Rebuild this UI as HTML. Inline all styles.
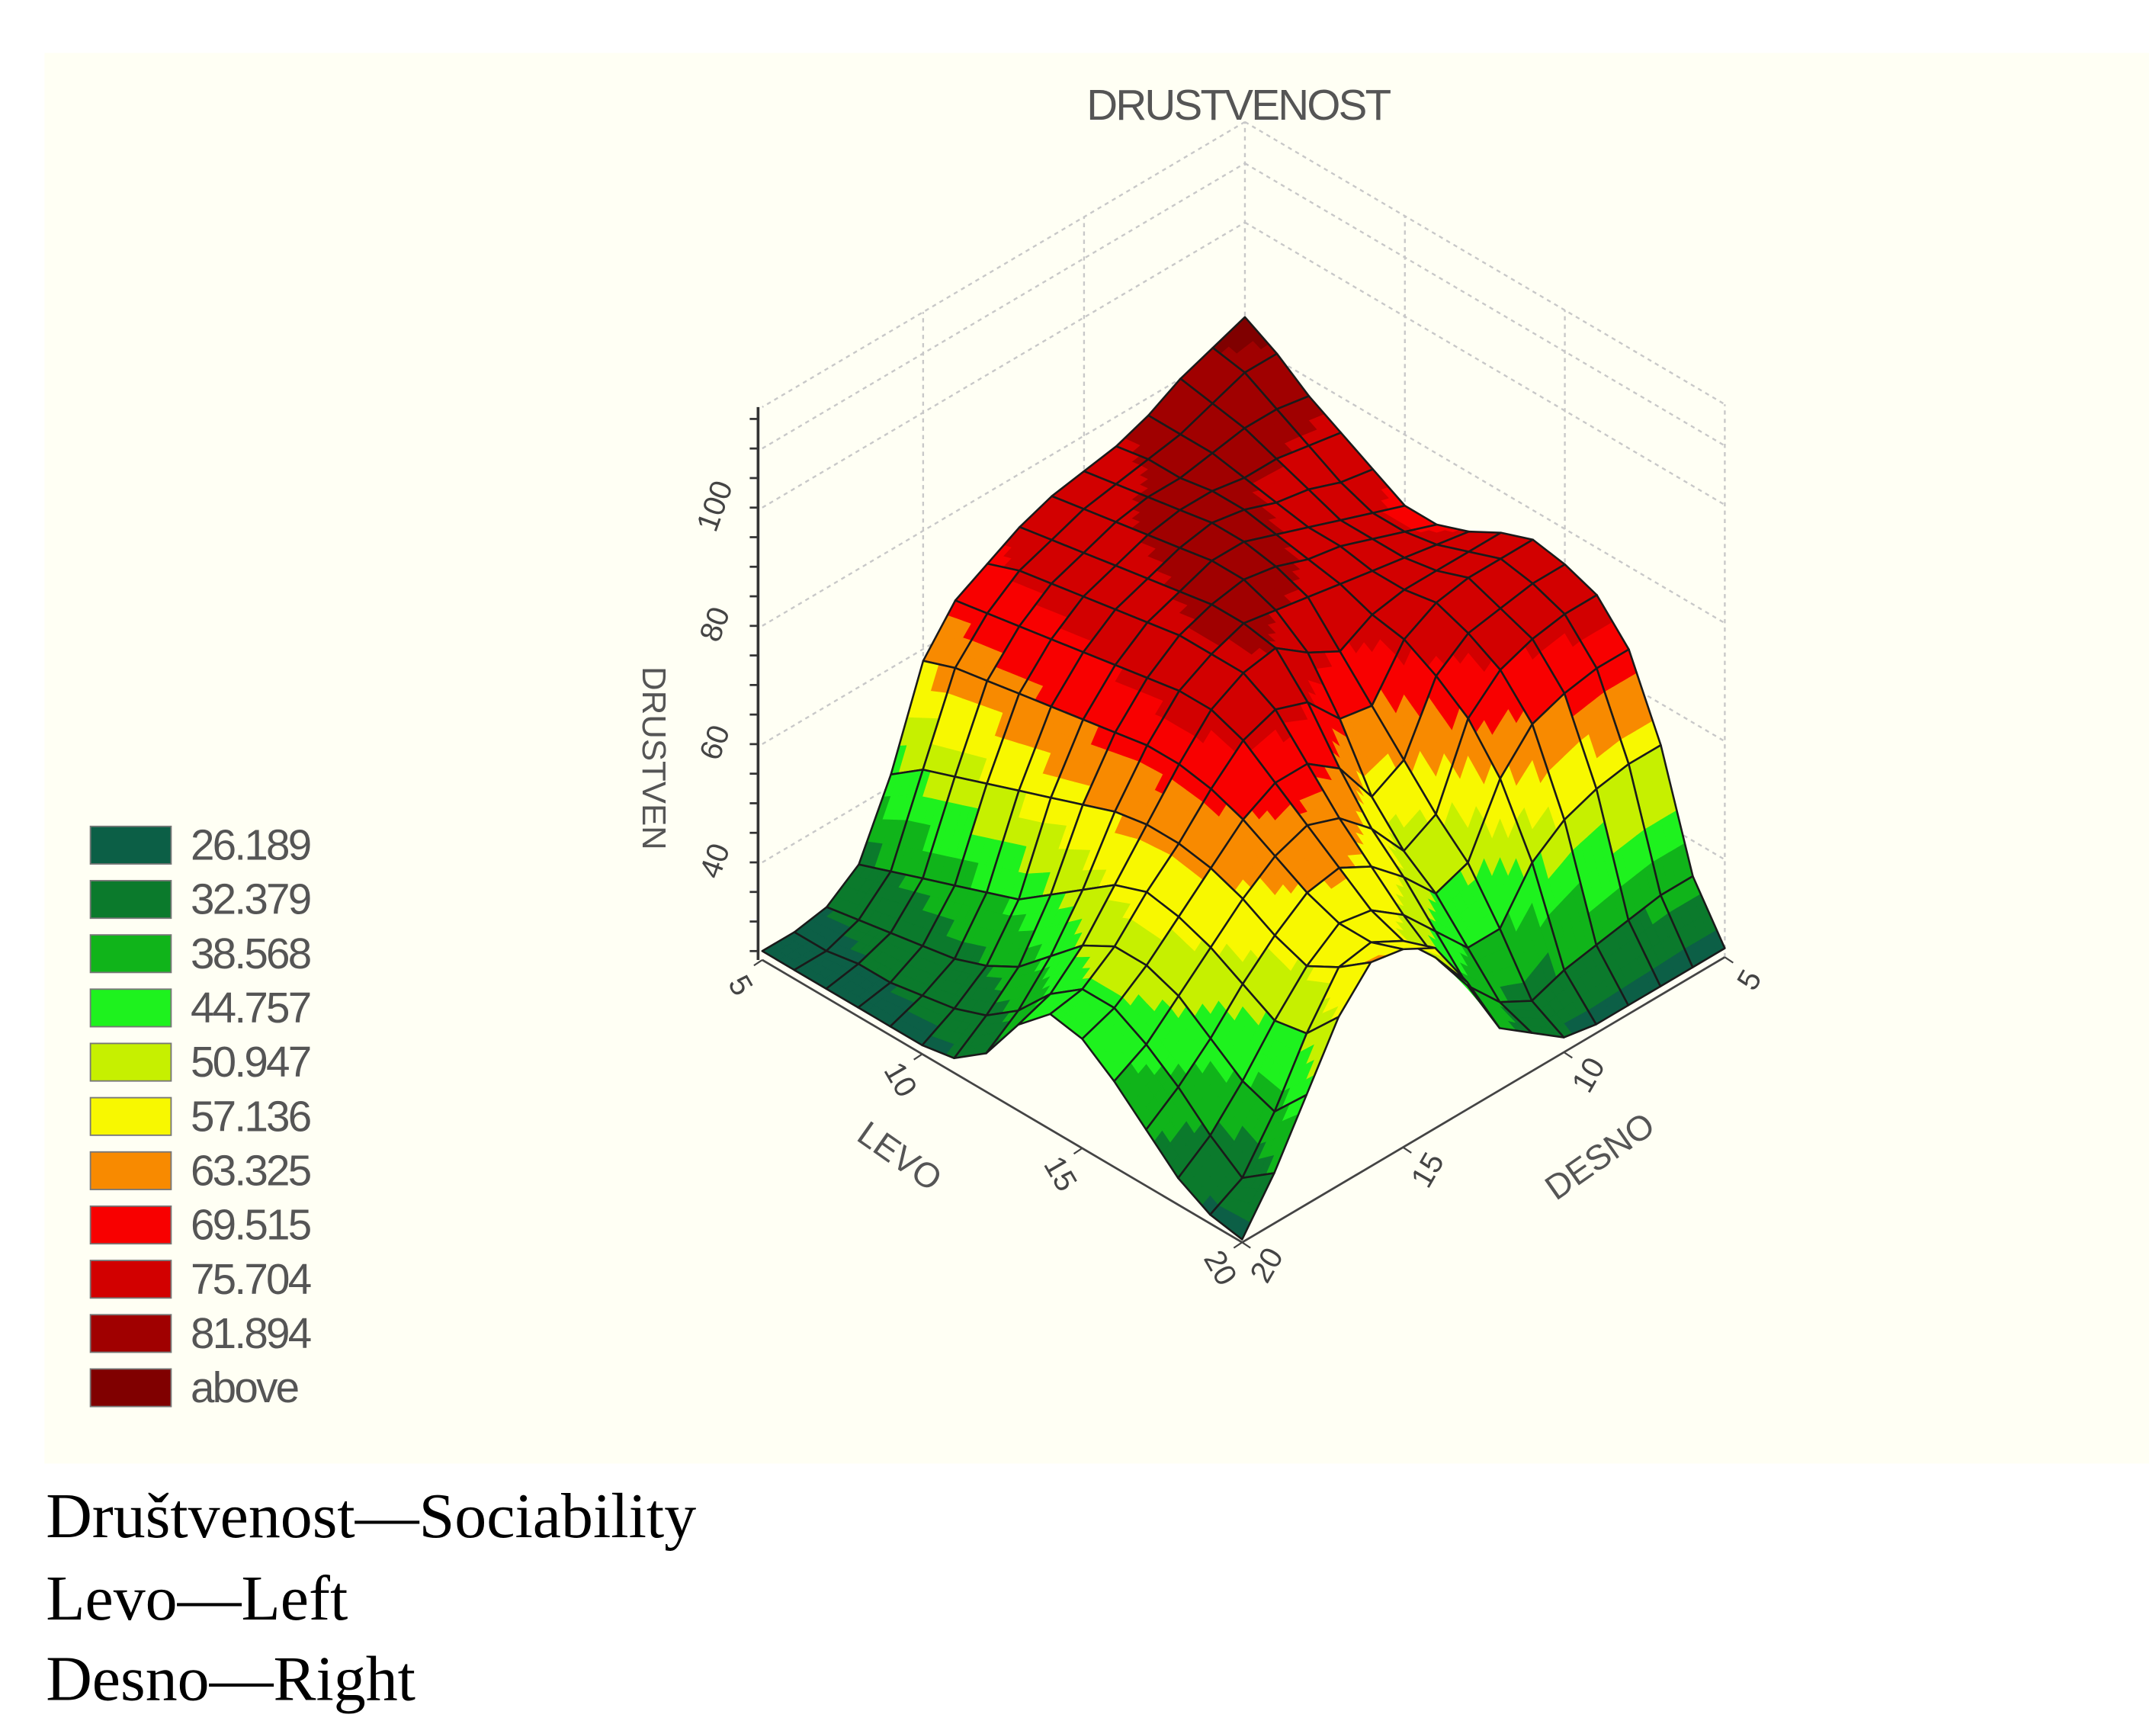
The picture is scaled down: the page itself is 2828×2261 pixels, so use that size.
<!DOCTYPE html>
<html><head><meta charset="utf-8"><style>
html,body{margin:0;padding:0;background:#fff;}
svg{display:block;}
</style></head><body>
<svg id="chart" width="2828" height="2261" viewBox="0 0 1550 1239.2" preserveAspectRatio="none" xmlns="http://www.w3.org/2000/svg">
<rect x="32" y="38" width="1513" height="1014" fill="#fffff4"/>
<text x="890" y="86" text-anchor="middle" font-family="Liberation Sans, sans-serif" font-size="31" fill="#555" letter-spacing="-1.5">DRUSTVENOST</text>
<g id="box"></g>
<g id="surf"></g>
<g id="axes"></g>
<g id="legend"></g>
<g font-family="Liberation Serif, serif" font-size="46" fill="#000">
<text x="33" y="1105">Društvenost—Sociability</text>
<text x="33" y="1164">Levo—Left</text>
<text x="33" y="1222">Desno—Right</text>
</g>
</svg>
<script>
const levoValues=[5,6,7,8,9,10,11,12,13,14,15,16,17,18,19,20];
const desnoValues=[5,6,7,8,9,10,11,12,13,14,15,16,17,18,19,20];
const levoTicks=[5,10,15,20];
const desnoTicks=[5,10,15,20];
const zTicks=[40,60,80,100];
const legendBounds=[26.189,32.379,38.568,44.757,50.947,57.136,63.325,69.515,75.704,81.894];
const legendLabels=["26.189","32.379","38.568","44.757","50.947","57.136","63.325","69.515","75.704","81.894","above"];
const legendColors=["#0c5f46","#0b7a2c","#10b41a","#1ef21e","#c6f000","#f8f800","#f88a00","#f80000","#d20000","#a00000","#800000"];
// rows: LEVO 5..20 ; columns: DESNO 5..20
const zRows=[
[84,82,80,77,75,74,73,71,68,65,58,42,30,26,25,25],
[81,81,79,77,76,75,74,72,70,66,60,46,32,27,25,25],
[77,78,78,77,76,76,75,73,71,67,61,48,34,28,26,25],
[74,75,76,76,77,77,76,74,72,68,62,50,36,29,26,25],
[71,72,74,75,77,78,77,75,73,69,63,52,38,30,27,25],
[68,70,72,74,76,78,78,76,74,70,64,54,40,32,28,25],
[68,70,72,74,75,77,78,77,75,71,65,56,44,35,30,26],
[70,71,72,73,74,75,76,77,75,72,66,58,48,40,34,30],
[73,73,73,73,72,69,72,76,75,72,66,59,52,45,40,38],
[75,75,75,74,71,63,64,70,72,70,65,59,54,48,44,43],
[74,74,73,72,68,57,54,62,66,66,63,58,53,48,44,42],
[72,72,71,69,64,51,48,55,60,62,60,56,51,46,41,38],
[66,66,65,63,57,46,44,50,55,58,57,53,48,42,37,33],
[53,53,52,50,46,38,38,44,50,54,55,51,45,38,32,28],
[34,34,33,32,31,29,32,38,46,52,55,54,46,36,28,25],
[25,25,25,25,25,26,30,34,45,54,57,58,52,42,32,24]
];
const NS="http://www.w3.org/2000/svg";
const BACK={x:895,y:485}, RIGHT={x:1240,y:688}, LEFT={x:548,y:690};
const Z0=23.5, ZK=4.25;
const lMin=levoValues[0], lMax=levoValues[levoValues.length-1];
const dMin=desnoValues[0], dMax=desnoValues[desnoValues.length-1];
function floorPt(L,D){const a=(L-lMin)/(lMax-lMin), b=(D-dMin)/(dMax-dMin);
 return {x:BACK.x+a*(RIGHT.x-BACK.x)+b*(LEFT.x-BACK.x), y:BACK.y+a*(RIGHT.y-BACK.y)+b*(LEFT.y-BACK.y)};}
function proj(L,D,z){const f=floorPt(L,D);return {x:f.x,y:f.y-(z-Z0)*ZK};}
function colorFor(z){for(let k=0;k<legendBounds.length;k++){if(z<=legendBounds[k])return legendColors[k];}return legendColors[legendColors.length-1];}
function mk(tag,attrs,parent){const e=document.createElementNS(NS,tag);for(const k in attrs)e.setAttribute(k,attrs[k]);parent.appendChild(e);return e;}
const box=document.getElementById('box'), surf=document.getElementById('surf'), axes=document.getElementById('axes'), legend=document.getElementById('legend');
const ZTOP=117;
const dot={stroke:"#c8c8c8","stroke-width":1.3,"stroke-dasharray":"3,3",fill:"none"};
function line(p,q,attrs,parent,name){const e=mk('line',Object.assign({x1:p.x,y1:p.y,x2:q.x,y2:q.y},attrs),parent);
 
 return e;}
line(proj(lMin,dMin,Z0),proj(lMin,dMin,ZTOP),dot,box,'back-edge');
line(proj(lMin,dMin,ZTOP),proj(lMin,dMax,ZTOP),dot,box,'left-wall-top');
line(proj(lMin,dMin,ZTOP),proj(lMax,dMin,ZTOP),dot,box,'right-wall-top');
line(proj(lMax,dMin,Z0),proj(lMax,dMin,ZTOP),dot,box,'right-wall-edge');
zTicks.concat([110]).forEach(z=>{
 line(proj(lMin,dMax,z),proj(lMin,dMin,z),dot,box,'left-wall-gridline');
 line(proj(lMin,dMin,z),proj(lMax,dMin,z),dot,box,'right-wall-gridline');
});
[10,15].forEach(v=>{
 line(proj(lMin,v,Z0),proj(lMin,v,ZTOP),dot,box,'left-wall-vertical-gridline');
 line(proj(v,dMin,Z0),proj(v,dMin,ZTOP),dot,box,'right-wall-vertical-gridline');
});
line(proj(lMin,dMax,Z0),proj(lMax,dMax,Z0),{stroke:"#444","stroke-width":1.5},axes,'levo-axis-line');
line(proj(lMax,dMin,Z0),proj(lMax,dMax,Z0),{stroke:"#444","stroke-width":1.5},axes,'desno-axis-line');
const nL=levoValues.length, nD=desnoValues.length;
const cells=[];for(let i=0;i<nL-1;i++)for(let j=0;j<nD-1;j++)cells.push([i,j]);
cells.sort((p,q)=>(p[0]+p[1])-(q[0]+q[1]));
const SUB=4;
cells.forEach(([i,j])=>{
 const g=mk('g',{},surf);
 
 
 const z00=zRows[i][j],z10=zRows[i+1][j],z01=zRows[i][j+1],z11=zRows[i+1][j+1];
 const L0=levoValues[i],L1=levoValues[i+1],D0=desnoValues[j],D1=desnoValues[j+1];
 function pt(u,v){const z=z00*(1-u)*(1-v)+z10*u*(1-v)+z01*(1-u)*v+z11*u*v;return {p:proj(L0+(L1-L0)*u,D0+(D1-D0)*v,z),z:z};}
 for(let a=0;a<SUB;a++)for(let b=0;b<SUB;b++){
  const A=pt(a/SUB,b/SUB),B=pt((a+1)/SUB,b/SUB),C=pt((a+1)/SUB,(b+1)/SUB),D=pt(a/SUB,(b+1)/SUB);
  const zc=pt((a+.5)/SUB,(b+.5)/SUB).z;const col=colorFor(zc);
  const poly=mk('polygon',{points:[A.p,B.p,C.p,D.p].map(p=>p.x.toFixed(1)+','+p.y.toFixed(1)).join(' '),fill:col,stroke:col,"stroke-width":0.6},g);
  
  
 }
 const o=[pt(0,0).p,pt(1,0).p,pt(1,1).p,pt(0,1).p];
 const out=mk('polygon',{points:o.map(p=>p.x.toFixed(1)+','+p.y.toFixed(1)).join(' '),fill:"none",stroke:"#1a1a1a","stroke-width":1.4,"stroke-linejoin":"round"},g);
 
 
});
const zA=proj(lMin,dMax,Z0), zB=proj(lMin,dMax,ZTOP);
const ax={x:zA.x-3,y:zA.y};
line({x:ax.x,y:zA.y},{x:ax.x,y:zB.y},{stroke:"#333","stroke-width":2},axes,'z-axis-line');
for(let z=25;z<=115;z+=5){const p=proj(lMin,dMax,z);line({x:ax.x-6,y:p.y},{x:ax.x,y:p.y},{stroke:"#333","stroke-width":1.5},axes,'z-axis-tick');}
zTicks.forEach(z=>{const p=proj(lMin,dMax,z);
 const t=mk('text',{x:ax.x-28,y:p.y+4,"text-anchor":"middle","font-family":"Liberation Sans, sans-serif","font-size":22,fill:"#444",transform:`rotate(-70 ${ax.x-28} ${p.y})`},axes);
 
 
 t.textContent=z;});
const zt=mk('text',{x:462,y:545,"text-anchor":"middle","font-family":"Liberation Sans, sans-serif","font-size":24,fill:"#555",transform:"rotate(90 462 545)"},axes);


zt.textContent="DRUSTVEN";
levoTicks.forEach(v=>{const p=proj(v,dMax,Z0);
 line(p,{x:p.x-6,y:p.y+4},{stroke:"#444","stroke-width":1.2},axes,'levo-tick');
 const x=p.x-22,y=p.y+22;
 const t=mk('text',{x:x,y:y,"text-anchor":"middle","font-family":"Liberation Sans, sans-serif","font-size":22,fill:"#444",transform:`rotate(60 ${x} ${y})`},axes);
 
 
 t.textContent=v;});
desnoTicks.forEach(v=>{const p=proj(lMax,v,Z0);
 line(p,{x:p.x+6,y:p.y+4},{stroke:"#444","stroke-width":1.2},axes,'desno-tick');
 const x=p.x+24,y=p.y+20;
 const t=mk('text',{x:x,y:y,"text-anchor":"middle","font-family":"Liberation Sans, sans-serif","font-size":22,fill:"#444",transform:`rotate(-60 ${x} ${y})`},axes);
 
 
 t.textContent=v;});
const lt=mk('text',{x:642,y:838,"text-anchor":"middle","font-family":"Liberation Sans, sans-serif","font-size":25,fill:"#555",transform:"rotate(35 642 838)"},axes);


lt.textContent="LEVO";
const dt=mk('text',{x:1155,y:838,"text-anchor":"middle","font-family":"Liberation Sans, sans-serif","font-size":25,fill:"#555",transform:"rotate(-35 1155 838)"},axes);


dt.textContent="DESNO";
legendLabels.forEach((lab,k)=>{const y=594+k*39;
 const r=mk('rect',{x:65,y:y,width:58,height:27,fill:legendColors[k],stroke:"#777","stroke-width":1},legend);
 
 
 const t=mk('text',{x:137,y:y+24,"font-family":"Liberation Sans, sans-serif","font-size":31,fill:"#555","letter-spacing":"-1.5"},legend);
 
 
 t.textContent=lab;});
</script>
</body></html>
